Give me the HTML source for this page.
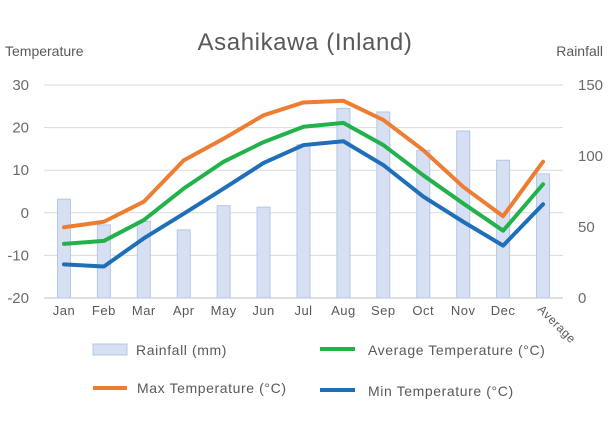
<!DOCTYPE html>
<html><head><meta charset="utf-8"><style>
body{margin:0;background:#fff;font-family:"Liberation Sans","Noto Sans CJK JP",sans-serif;}
svg text{font-family:"Liberation Sans","Noto Sans CJK JP",sans-serif;fill:#595959;}
</style></head><body>
<svg id="chart" width="608" height="435" viewBox="0 0 608 435">
<rect width="608" height="435" fill="#fff"/>
<text x="305" y="50" font-size="24" letter-spacing="0.6" text-anchor="middle">Asahikawa (Inland)</text>
<text x="5" y="56" font-size="14">Temperature</text>
<text x="603" y="56" font-size="14" text-anchor="end">Rainfall</text>
<g id="grid"></g><g id="bars"></g><g id="lines"></g><g id="axes"></g>
<g>
<rect x="93" y="344" width="34" height="11" fill="#d6e0f2" stroke="#b4c7e7"/>
<text x="136" y="355" font-size="14" letter-spacing="0.6">Rainfall (mm)</text>
<line x1="320" y1="349" x2="355" y2="349" stroke="#22b24c" stroke-width="4"/>
<text x="368" y="355" font-size="14" letter-spacing="0.6">Average Temperature (°C)</text>
<line x1="93" y1="388" x2="127" y2="388" stroke="#ed7d31" stroke-width="4"/>
<text x="137" y="393" font-size="14" letter-spacing="0.6">Max Temperature (°C)</text>
<line x1="320" y1="390" x2="355" y2="390" stroke="#1f6fb8" stroke-width="4"/>
<text x="368" y="396" font-size="14" letter-spacing="0.6">Min Temperature (°C)</text>
</g>
</svg>
<script>
const categories=["Jan","Feb","Mar","Apr","May","Jun","Jul","Aug","Sep","Oct","Nov","Dec","Average"];
const rainfall=[69.6,51.5,54,48,65,64,108,133.5,131,104,117.6,97,87.4];
const maxTemp=[-3.4,-2.1,2.6,12.3,17.4,22.9,25.9,26.3,21.8,14.7,6.1,-0.8,12.0];
const avgTemp=[-7.3,-6.6,-1.7,5.7,12.0,16.6,20.2,21.1,15.9,8.8,2.2,-4.2,6.7];
const minTemp=[-12.1,-12.6,-6.0,-0.2,5.7,11.7,15.9,16.8,11.2,3.8,-2.1,-7.7,2.0];
const leftTicks=[30,20,10,0,-10,-20];
const rightTicks=[150,100,50,0];
const NS="http://www.w3.org/2000/svg";
const X0=44,X1=563,Y0=85,Y1=298;
const band=(X1-X0)/categories.length;
const xc=i=>X0+band*(i+0.5);
const yT=v=>Y1-(v+20)/50*(Y1-Y0);
const yR=v=>Y1-v/150*(Y1-Y0);
function mk(tag,attrs,parent){const e=document.createElementNS(NS,tag);for(const k in attrs)e.setAttribute(k,attrs[k]);document.getElementById(parent).appendChild(e);return e;}
leftTicks.forEach(t=>{
 const g=mk("line",{x1:X0,x2:X1,y1:yT(t),y2:yT(t),stroke:t===-20?"#bfbfbf":"#d9d9d9","stroke-width":1},"grid");
 
 
 const l=mk("text",{x:29,y:yT(t)+5,"font-size":15,"text-anchor":"end",style:"fill:#6b6b6b"},"axes");l.textContent=t;
 
 
});
rightTicks.forEach(t=>{
 const l=mk("text",{x:578,y:yR(t)+5,"font-size":15,style:"fill:#6b6b6b"},"axes");l.textContent=t;
 
 
});
categories.forEach((c,i)=>{
 let l;
 if(c==="Average"){l=mk("text",{x:xc(i)-6,y:Y1+12,"font-size":12,"letter-spacing":"0.5",transform:`rotate(45 ${xc(i)-6} ${Y1+12})`},"axes");}
 else l=mk("text",{x:xc(i),y:Y1+17,"font-size":13,"letter-spacing":"0.5","text-anchor":"middle"},"axes");
 l.textContent=c;
 
 
 const b=mk("rect",{x:xc(i)-6.5,y:yR(rainfall[i]),width:13,height:Y1-yR(rainfall[i]),fill:"#d6e0f2",stroke:"#b4c7e7","stroke-width":1},"bars");
 
 
});
[[maxTemp,"#ed7d31","max-temp-line"],[avgTemp,"#22b24c","avg-temp-line"],[minTemp,"#1f6fb8","min-temp-line"]].forEach(([s,col,n])=>{
 const p=mk("polyline",{points:s.map((v,i)=>xc(i)+","+yT(v)).join(" "),fill:"none",stroke:col,"stroke-width":4,"stroke-linejoin":"round","stroke-linecap":"round"},"lines");
 
 
});
</script>
</body></html>
